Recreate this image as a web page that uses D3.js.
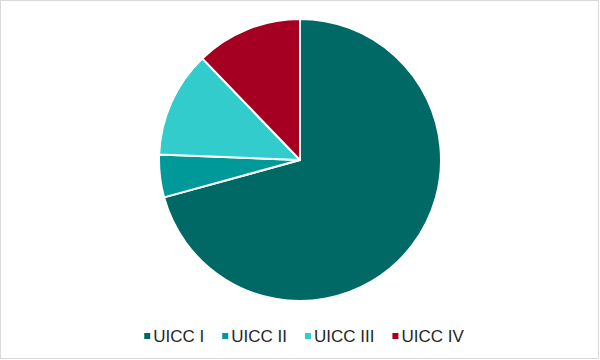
<!DOCTYPE html>
<html>
<head>
<meta charset="utf-8">
<script src="https://cdn.jsdelivr.net/npm/d3@7"></script>
<style>
  body { margin: 0; background: #fff; }
  text { font-family: "Liberation Sans", Arial, sans-serif; }
</style>
</head>
<body>
<svg id="chart" width="600" height="360"></svg>
<script>
// stage groups and patient counts
const stages = ["UICC I", "UICC II", "UICC III", "UICC IV"];
const counts = [58, 4, 10, 10];
const colors = ["#006966", "#009999", "#33cccc", "#a50021"];

const width = 600, height = 360;
const svg = d3.select("#chart");

// outer frame
svg.append("rect")
    .attr("x", 0.5).attr("y", 0.5)
    .attr("width", 598).attr("height", 358)
    .attr("fill", "#fff")
    .attr("stroke", "#d9d9d9");

let color = d3.scaleOrdinal().domain(stages).range(colors);

let pie = d3.pie().sort(null).value(function(d, i) { return counts[i]; });
let arc = d3.arc().innerRadius(0).outerRadius(141);

let g = svg.append("g").attr("transform", "translate(300,160)");

g.selectAll("path")
    .data(pie(stages))
    .enter().append("path")
    .attr("d", arc)
    .attr("fill", function(d) { return color(d.data); })
    .attr("stroke", "#fff")
    .attr("stroke-width", 2)
    .attr("stroke-linejoin", "round");

// legend, laid out from measured text widths
let legend = svg.append("g").attr("class", "legend");
let items = legend.selectAll("g")
    .data(stages)
    .enter().append("g");

items.append("rect")
    .attr("y", 333)
    .attr("width", 6).attr("height", 6)
    .attr("fill", function(d) { return color(d); });

items.append("text")
    .attr("x", 9)
    .attr("y", 342)
    .attr("font-size", 17)
    .attr("fill", "#262626")
    .text(function(d) { return d; });

let x = 0;
items.each(function() {
    let w = d3.select(this).select("text").node().getComputedTextLength();
    d3.select(this).attr("transform", "translate(" + x + ",0)");
    x += 9 + w + 18;
});
let total = x - 18;
legend.attr("transform", "translate(" + (304 - total / 2) + ",0)");
</script>
</body>
</html>
